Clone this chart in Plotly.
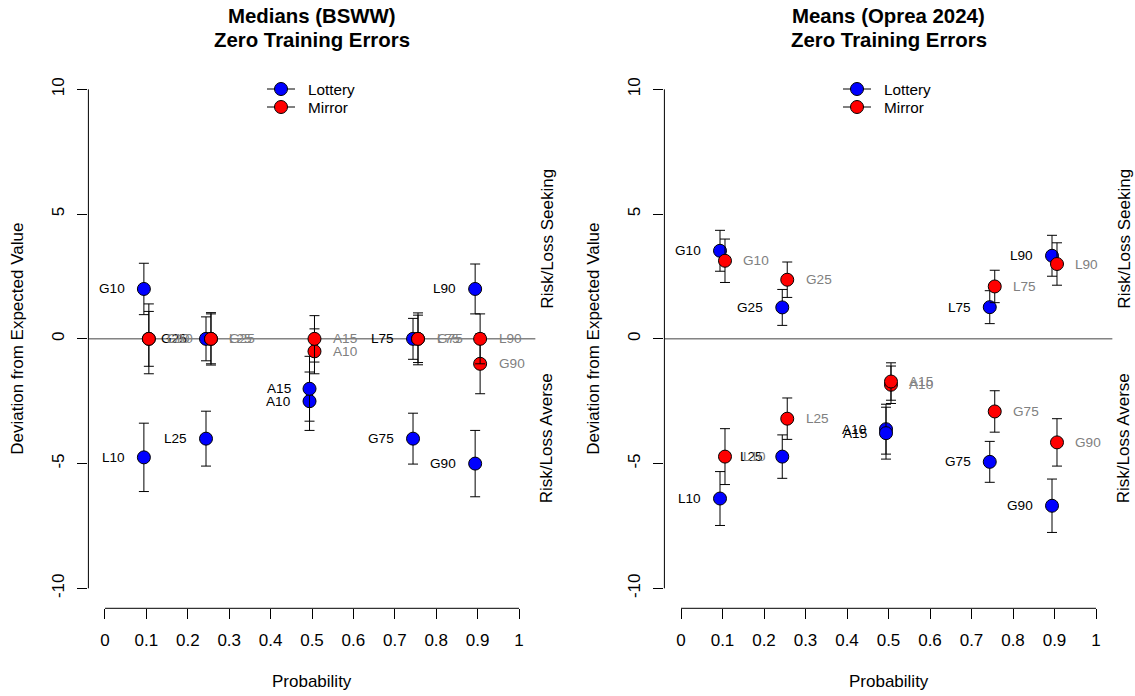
import plotly.graph_objects as go

# ---------------------------------------------------------------- data
conditions = ["G10", "G25", "G75", "G90", "L10", "L25", "L75", "L90", "A10", "A15"]
probabilities = [0.1, 0.25, 0.75, 0.9, 0.1, 0.25, 0.75, 0.9, 0.5, 0.5]

# Medians (BSWW): deviation from expected value and error half-widths
bsww_lottery = [2.0, 0.0, -4.0, -5.0, -4.75, -4.0, 0.0, 2.0, -2.5, -2.0]
bsww_lottery_err = [1.03, 0.88, 1.02, 1.33, 1.37, 1.1, 0.82, 1.0, 1.17, 1.3]
bsww_mirror = [0.0, 0.0, 0.0, -1.0, 0.0, 0.0, 0.0, 0.0, -0.5, 0.0]
bsww_mirror_err = [1.1, 1.05, 1.04, 1.2, 1.4, 1.0, 0.95, 1.0, 0.9, 0.93]

# Means (Oprea 2024)
oprea_lottery = [3.53, 1.26, -4.93, -6.69, -6.4, -4.72, 1.27, 3.33, -3.62, -3.78]
oprea_lottery_err = [0.82, 0.72, 0.82, 1.07, 1.08, 0.87, 0.66, 0.82, 1.0, 1.04]
oprea_mirror = [3.13, 2.37, -2.91, -4.15, -4.72, -3.2, 2.1, 3.0, -1.84, -1.71]
oprea_mirror_err = [0.87, 0.71, 0.83, 0.95, 1.12, 0.83, 0.65, 0.85, 0.75, 0.75]

x_ticks = [0, 0.1, 0.2, 0.3, 0.4, 0.5, 0.6, 0.7, 0.8, 0.9, 1]
x_tick_labels = ["0", "0.1", "0.2", "0.3", "0.4", "0.5", "0.6", "0.7", "0.8", "0.9", "1"]
y_ticks = [-10, -5, 0, 5, 10]
y_tick_labels = ["-10", "-5", "0", "5", "10"]

panel_titles = [("Medians (BSWW)", "Zero Training Errors"),
                ("Means (Oprea 2024)", "Zero Training Errors")]
series_names = ["Lottery", "Mirror"]

# ---------------------------------------------------------------- layout constants
W, H = 1135, 696
FONT = "Liberation Sans, Arial, Helvetica, sans-serif"
X_RANGE = [-0.04, 1.04]
Y_RANGE = [-10.8, 10.8]
PLOT_TOP, PLOT_BOTTOM = 69.4, 608.3
PANEL_LEFT = [88.4, 664.4]
PANEL_RIGHT = [535.6, 1112.6]
DODGE = {"Lottery": -0.006, "Mirror": 0.006}
FILL = {"Lottery": "#0000ff", "Mirror": "#ff0000"}
LABEL_COLOR = {"Lottery": "#000000", "Mirror": "#808080"}


def px_x(px):
    return px / W


def px_y(py):
    return 1 - py / H


def dom_frac(v, rng):
    return (v - rng[0]) / (rng[1] - rng[0])


fig = go.Figure()
shapes = []
annotations = []

panels = [
    ((bsww_lottery, bsww_lottery_err), (bsww_mirror, bsww_mirror_err)),
    ((oprea_lottery, oprea_lottery_err), (oprea_mirror, oprea_mirror_err)),
]

for k, panel in enumerate(panels):
    xa = "x" if k == 0 else "x2"
    ya = "y" if k == 0 else "y2"
    left, right = PANEL_LEFT[k], PANEL_RIGHT[k]

    # zero reference line across the plotting region
    shapes.append(dict(type="line", xref=xa, yref=ya, x0=X_RANGE[0], x1=X_RANGE[1],
                       y0=0, y1=0, line=dict(color="#444444", width=1), layer="below"))

    # points with error bars, one trace per point so later bars sit over earlier points
    for name, (vals, errs) in zip(series_names, panel):
        for cond, p, v, e in zip(conditions, probabilities, vals, errs):
            xv = p + DODGE[name]
            fig.add_trace(go.Scatter(
                x=[xv], y=[v], xaxis=xa, yaxis=ya, mode="markers", showlegend=False,
                marker=dict(size=13, color=FILL[name], line=dict(color="black", width=1)),
                error_y=dict(type="data", array=[e], visible=True, color="black",
                             thickness=1, width=5),
                hovertext=[f"{name} {cond}"], hoverinfo="text+y",
            ))
            left_side = name == "Lottery"
            annotations.append(dict(
                x=xv, y=v, xref=xa, yref=ya, text=cond, showarrow=False,
                xanchor="right" if left_side else "left",
                xshift=-17 if left_side else 16.5,
                font=dict(family=FONT, size=13.6, color=LABEL_COLOR[name]),
            ))

    # detached axis lines spanning only the labelled ranges
    shapes.append(dict(type="line", xref=f"{xa} domain", yref=f"{ya} domain",
                       x0=0, x1=0, y0=dom_frac(y_ticks[0], Y_RANGE), y1=dom_frac(y_ticks[-1], Y_RANGE),
                       line=dict(color="black", width=1)))
    shapes.append(dict(type="line", xref=f"{xa} domain", yref=f"{ya} domain",
                       y0=0, y1=0, x0=dom_frac(x_ticks[0], X_RANGE), x1=dom_frac(x_ticks[-1], X_RANGE),
                       line=dict(color="black", width=1)))

    # titles
    cx = (left + right) / 2
    for line_text, ty in zip(panel_titles[k], [16, 40]):
        annotations.append(dict(x=px_x(cx), y=px_y(ty), xref="paper", yref="paper",
                                text=f"<b>{line_text}</b>", showarrow=False,
                                xanchor="center", yanchor="middle",
                                font=dict(family=FONT, size=20.4, color="black")))

    # axis titles
    annotations.append(dict(x=0.5, y=px_y(681), xref=f"{xa} domain", yref="paper",
                            text="Probability", showarrow=False,
                            xanchor="center", yanchor="middle",
                            font=dict(family=FONT, size=17, color="black")))
    annotations.append(dict(x=px_x(left - 70.5), y=0, xref="paper", yref=ya,
                            text="Deviation from Expected Value", textangle=-90,
                            showarrow=False, xanchor="center", yanchor="middle",
                            font=dict(family=FONT, size=17, color="black")))

    # side descriptors
    for txt, yv in [("Risk/Loss Seeking", 4), ("Risk/Loss Averse", -4)]:
        annotations.append(dict(x=px_x(right + 11), y=yv, xref="paper", yref=ya,
                                text=txt, textangle=-90, showarrow=False,
                                xanchor="center", yanchor="middle",
                                font=dict(family=FONT, size=17, color="black")))

    # legend
    for i, name in enumerate(series_names):
        ly = 89 + 18 * i
        mx = left + 192.6
        shapes.append(dict(type="line", xref="paper", yref="paper",
                           x0=px_x(mx - 14), x1=px_x(mx + 14), y0=px_y(ly), y1=px_y(ly),
                           line=dict(color="black", width=1)))
        shapes.append(dict(type="circle", xref="paper", yref="paper",
                           xsizemode="pixel", ysizemode="pixel",
                           xanchor=px_x(mx), yanchor=px_y(ly),
                           x0=-6.5, x1=6.5, y0=-6.5, y1=6.5,
                           fillcolor=FILL[name], line=dict(color="black", width=1)))
        annotations.append(dict(x=px_x(mx + 25), y=px_y(ly), xref="paper", yref="paper",
                                text=name, showarrow=False, xanchor="left", yanchor="middle",
                                font=dict(family=FONT, size=15.3, color="black")))

axis_common = dict(showgrid=False, zeroline=False, showline=False, ticks="outside",
                   ticklen=10, tickwidth=1, tickcolor="black",
                   tickfont=dict(family=FONT, size=17, color="black"))

layout = dict(
    width=W, height=H, margin=dict(l=0, r=0, t=0, b=0),
    paper_bgcolor="white", plot_bgcolor="white", showlegend=False,
    shapes=shapes, annotations=annotations,
    font=dict(family=FONT, color="black"),
)
ydom = [px_y(PLOT_BOTTOM), px_y(PLOT_TOP)]
for k in range(2):
    sx = "" if k == 0 else "2"
    layout[f"xaxis{sx}"] = dict(axis_common, domain=[px_x(PANEL_LEFT[k]), px_x(PANEL_RIGHT[k])],
                                range=X_RANGE, tickvals=x_ticks, ticktext=x_tick_labels,
                                anchor=f"y{sx}", ticklabelstandoff=6)
    layout[f"yaxis{sx}"] = dict(axis_common, domain=ydom, range=Y_RANGE,
                                tickvals=y_ticks, ticktext=y_tick_labels, tickangle=-90,
                                anchor=f"x{sx}", ticklabelstandoff=7)

fig.update_layout(**layout)
fig.write_html("out.html")
